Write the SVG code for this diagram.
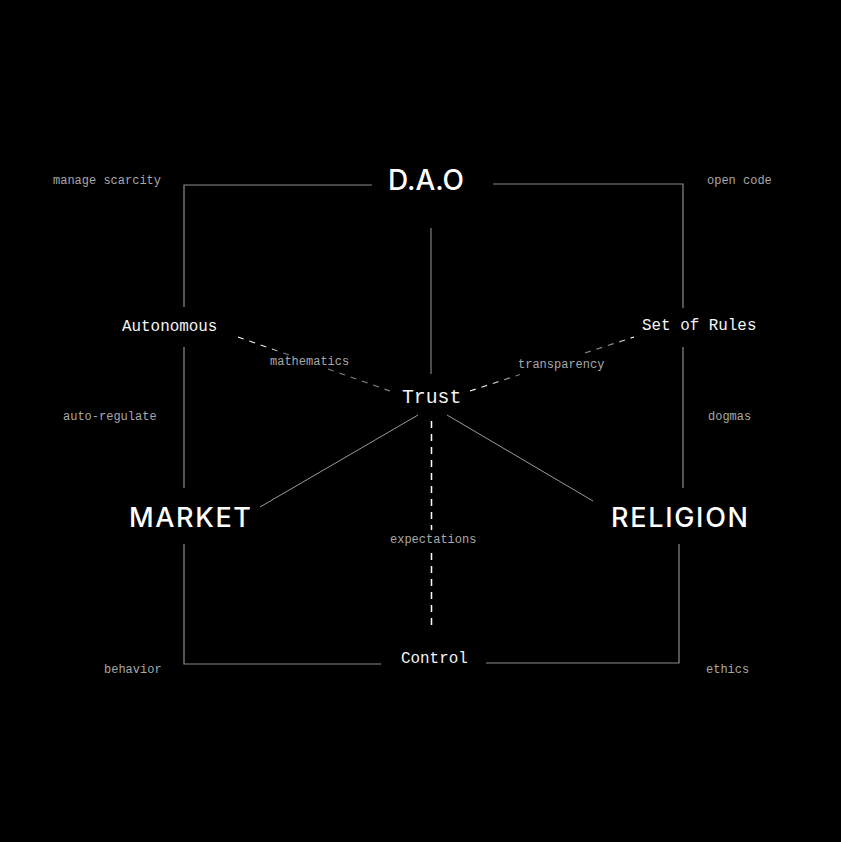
<svg xmlns="http://www.w3.org/2000/svg" width="841" height="842" viewBox="0 0 841 842">
  <defs>
    <style>
      .box { fill: none; stroke: #8c8c8c; stroke-width: 1.2; }
      .spoke { fill: none; stroke: #9a9a9a; stroke-width: 1; }
      .dash { fill: none; stroke-width: 1.2; stroke-dasharray: 6 6; }
      .vdash { fill: none; stroke: #ffffff; stroke-width: 1.5; stroke-dasharray: 7 6; }
      .big { font-family: Inter, "Liberation Sans", sans-serif; font-size: 27px; font-weight: 500; fill: #ffffff; }
      .mid { font-family: "Liberation Mono", "DejaVu Sans Mono", monospace; font-size: 15.9px; fill: #f4f4f4; }
      .small { font-family: "Liberation Mono", "DejaVu Sans Mono", monospace; font-size: 12px; fill: #a8a8a8; }
    </style>
    <linearGradient id="gMath" gradientUnits="userSpaceOnUse" x1="238" y1="337" x2="390" y2="391">
      <stop offset="0" stop-color="#ffffff"/>
      <stop offset="0.22" stop-color="#e0e0e0"/>
      <stop offset="0.28" stop-color="#777777"/>
      <stop offset="1" stop-color="#888888"/>
    </linearGradient>
    <linearGradient id="gTrans" gradientUnits="userSpaceOnUse" x1="470" y1="391" x2="634" y2="337">
      <stop offset="0" stop-color="#ffffff"/>
      <stop offset="0.15" stop-color="#cccccc"/>
      <stop offset="0.3" stop-color="#777777"/>
      <stop offset="0.85" stop-color="#888888"/>
      <stop offset="1" stop-color="#ffffff"/>
    </linearGradient>
  </defs>
  <rect x="0" y="0" width="841" height="842" fill="#000000"/>

  <g id="connectors">
    <path class="box" d="M372,185 H184 V307"/>
    <path class="box" d="M184,347 V488"/>
    <path class="box" d="M184,544 V664 H381"/>
    <path class="box" d="M493,184 H683 V308"/>
    <path class="box" d="M683,347 V488"/>
    <path class="box" d="M679,544 V663 H486"/>
    <path class="spoke" d="M431,228 V374"/>
    <path class="spoke" d="M418,415 L260,507"/>
    <path class="spoke" d="M447,415 L593,501"/>
    <path class="vdash" d="M431.5,421 V530"/>
    <path class="vdash" d="M431.5,553 V628"/>
    <path class="dash" stroke="url(#gMath)" d="M238,337 L289,355"/>
    <path class="dash" stroke="url(#gMath)" d="M328,369 L390,391"/>
    <path class="dash" stroke="url(#gTrans)" d="M470,391 L520,374.5"/>
    <path class="dash" stroke="url(#gTrans)" d="M585,353 L634,337"/>
  </g>

  <g id="node-dao"><text class="big" x="388" y="190" textLength="76" lengthAdjust="spacingAndGlyphs" style="font-size:28px">D.A.O</text></g>
  <g id="node-market"><text class="big" x="129" y="527" textLength="122" lengthAdjust="spacing">MARKET</text></g>
  <g id="node-religion"><text class="big" x="611" y="527" textLength="137" lengthAdjust="spacing">RELIGION</text></g>
  <g id="node-autonomous"><text class="mid" x="122" y="331">Autonomous</text></g>
  <g id="node-rules"><text class="mid" x="642" y="330">Set of Rules</text></g>
  <g id="node-trust"><text class="mid" x="402" y="403" style="font-size:19.8px">Trust</text></g>
  <g id="node-control"><text class="mid" x="401" y="663">Control</text></g>

  <g id="labels">
    <text class="small" x="53" y="184">manage scarcity</text>
    <text class="small" x="707" y="184">open code</text>
    <text class="small" x="63" y="420">auto-regulate</text>
    <text class="small" x="708" y="420">dogmas</text>
    <text class="small" x="104" y="673">behavior</text>
    <text class="small" x="706" y="673">ethics</text>
    <text class="small" x="270" y="365">mathematics</text>
    <text class="small" x="518" y="368">transparency</text>
    <text class="small" x="390" y="543">expectations</text>
  </g>
</svg>
